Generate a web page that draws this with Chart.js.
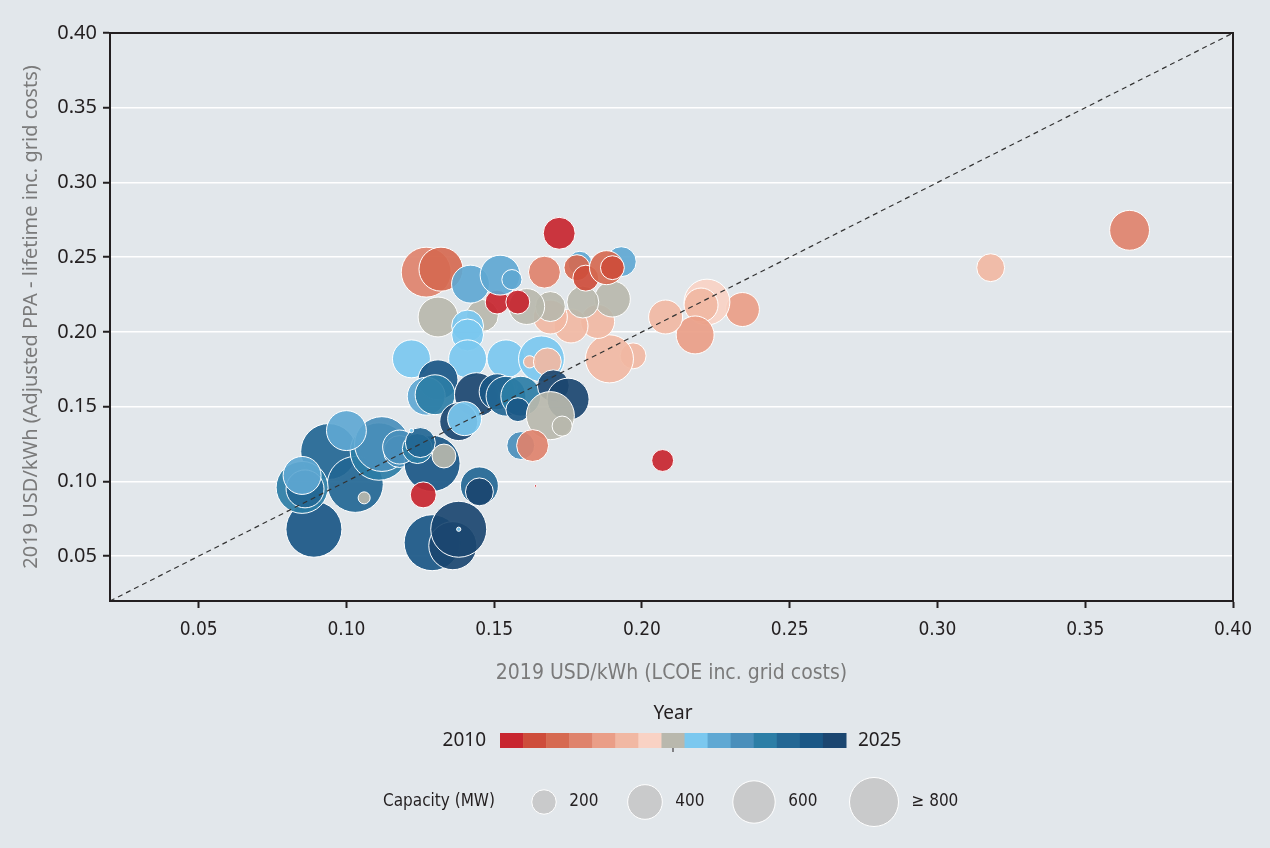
<!DOCTYPE html>
<html>
<head>
<meta charset="utf-8">
<script src="https://cdn.jsdelivr.net/npm/chart.js@4.4.0/dist/chart.umd.min.js"></script>
<style>
  html, body { margin: 0; padding: 0; background: #e2e7eb; }
  #wrap { width: 1270px; height: 848px; }
</style>
</head>
<body>
<div id="wrap"><canvas id="chart" width="1270" height="848"></canvas></div>
<script>
// LCOE inc. grid costs (x) and adjusted lifetime PPA (y), 2019 USD/kWh
const lcoe = [0.365, 0.318, 0.207, 0.234, 0.222, 0.220, 0.218, 0.208, 0.197, 0.189, 0.185, 0.176, 0.169,
  0.190, 0.180, 0.169, 0.161, 0.146, 0.131, 0.172, 0.167, 0.179, 0.178, 0.181, 0.193, 0.188, 0.190,
  0.151, 0.158, 0.127, 0.132, 0.142, 0.152, 0.156, 0.141, 0.141, 0.122, 0.141, 0.154, 0.166, 0.162,
  0.168, 0.154, 0.131, 0.127, 0.130, 0.144, 0.151, 0.154, 0.159, 0.170, 0.175, 0.158, 0.138, 0.140,
  0.169, 0.173, 0.159, 0.163, 0.164,
  0.089, 0.094, 0.103, 0.085, 0.086, 0.085, 0.111, 0.112, 0.100, 0.106, 0.118, 0.129, 0.118, 0.124,
  0.125, 0.122, 0.133, 0.126, 0.145, 0.145, 0.129, 0.136, 0.138, 0.138]
const ppa = [0.268, 0.243, 0.114, 0.215, 0.220, 0.218, 0.198, 0.210, 0.184, 0.182, 0.207, 0.204, 0.210,
  0.222, 0.220, 0.217, 0.217, 0.211, 0.210, 0.266, 0.240, 0.246, 0.243, 0.236, 0.247, 0.243, 0.243,
  0.220, 0.220, 0.240, 0.242, 0.232, 0.238, 0.235, 0.204, 0.198, 0.182, 0.182, 0.182, 0.182, 0.180,
  0.180, 0.163, 0.168, 0.157, 0.158, 0.158, 0.160, 0.157, 0.157, 0.164, 0.155, 0.148, 0.140, 0.142,
  0.144, 0.137, 0.124, 0.124, 0.097,
  0.068, 0.120, 0.098, 0.096, 0.095, 0.104, 0.120, 0.125, 0.134, 0.089, 0.120, 0.112, 0.123, 0.122,
  0.126, 0.134, 0.117, 0.091, 0.097, 0.093, 0.059, 0.057, 0.068, 0.068]
const capacity = [530, 260, 160, 385, 700, 385, 480, 385, 225, 770, 385, 385, 385,
  430, 340, 300, 430, 340, 530, 340, 340, 190, 225, 225, 300, 385, 190,
  190, 190, 830, 645, 480, 530, 135, 340, 340, 480, 480, 480, 700, 50,
  260, 160, 530, 480, 530, 645, 430, 530, 530, 340, 590, 190, 480, 385,
  770, 135, 260, 340, 2,
  1045, 1045, 1045, 900, 480, 480, 1100, 1000, 530, 48, 340, 1045, 385, 300,
  300, 6, 190, 225, 480, 260, 1045, 770, 1045, 6]
const year = [2013, 2015, 2010, 2014, 2016, 2015, 2014, 2015, 2015, 2015, 2015, 2015, 2015,
  2017, 2017, 2017, 2017, 2017, 2017, 2010, 2013, 2019, 2012, 2011, 2019, 2012, 2011,
  2010, 2010, 2013, 2012, 2019, 2019, 2019, 2018, 2018, 2018, 2018, 2018, 2018, 2015,
  2015, 2014, 2023, 2019, 2021, 2024, 2023, 2022, 2021, 2024, 2024, 2023, 2024, 2018,
  2017, 2017, 2020, 2013, 2010,
  2023, 2022, 2022, 2021, 2022, 2019, 2021, 2020, 2019, 2017, 2020, 2023, 2020, 2021,
  2022, 2018, 2017, 2010, 2022, 2024, 2023, 2024, 2024, 2018]

const yearColors = ['#c8262f', '#ce4d3b', '#d66a51', '#df836c', '#ea9e87', '#f1b8a3', '#f9d2c4', '#b9b8ad',
  '#7bc8ef', '#5fa8d3', '#4a8fbb', '#2c7ea6', '#236794', '#1a5785', '#1b4670']
const yearStart = 2010
const yearEnd = 2025
const sizeLegend = [200, 400, 600, 800]
const sizeLabels = ['200', '400', '600', '≥ 800']
const diagonal = [0.02, 0.40]

const ink = '#231f20'
const grey = '#7a7a7a'
const fontMain = "'Noto Sans', sans-serif"
const fontNarrow = "'Liberation Sans Narrow', 'DejaVu Sans Condensed', 'Noto Sans', sans-serif"

function rOf(mw) { return 0.866 * Math.sqrt(mw) }
function alpha(hex, a) {
  let n = parseInt(hex.slice(1), 16)
  return `rgba(${n >> 16},${(n >> 8) & 255},${n & 255},${a})`
}
function onlyFives(scale) {
  scale.ticks = scale.ticks.filter(t => Math.abs(t.value * 20 - Math.round(t.value * 20)) < 1e-6)
}

const frameAndLegend = {
  id: 'frameAndLegend',
  afterDraw(chart) {
    const { ctx, chartArea: a } = chart
    ctx.save()
    ctx.strokeStyle = ink
    ctx.lineWidth = 2
    ctx.strokeRect(a.left, a.top, a.right - a.left, a.bottom - a.top)

    // year colour bar
    let barL = 500, barW = 346, barT = 733, barH = 15
    let seg = barW / yearColors.length
    yearColors.forEach((c, i) => {
      ctx.fillStyle = c
      ctx.fillRect(barL + i * seg, barT, seg + 0.5, barH)
    })
    ctx.fillStyle = ink
    ctx.fillRect(barL + 7.5 * seg - 0.5, barT + barH, 1, 4)
    ctx.font = `19px ${fontMain}`
    ctx.textBaseline = 'middle'
    ctx.textAlign = 'center'
    ctx.fillText('Year', barL + barW / 2, 714)
    ctx.textAlign = 'right'
    ctx.fillText(String(yearStart), barL - 14, barT + barH / 2)
    ctx.textAlign = 'left'
    ctx.fillText(String(yearEnd), barL + barW + 12, barT + barH / 2)

    // capacity legend
    let cy = 802
    ctx.font = `17px ${fontNarrow}`
    ctx.fillText('Capacity (MW)', 383, cy)
    let centers = [544, 645, 754, 874]
    sizeLegend.forEach((mw, i) => {
      ctx.beginPath()
      ctx.arc(centers[i], cy, rOf(mw), 0, Math.PI * 2)
      ctx.fillStyle = '#c9cacb'
      ctx.fill()
      ctx.strokeStyle = '#ffffff'
      ctx.lineWidth = 1
      ctx.stroke()
      ctx.fillStyle = ink
      ctx.fillText(sizeLabels[i], centers[i] + rOf(mw) + 13, cy)
    })
    ctx.restore()
  }
}

new Chart(document.getElementById('chart'), {
  data: {
    datasets: [
      {
        type: 'line',
        data: diagonal.map(v => ({ x: v, y: v })),
        borderColor: '#333333',
        borderWidth: 1.2,
        borderDash: [5, 4],
        pointRadius: 0,
        order: 0
      },
      {
        type: 'bubble',
        data: lcoe.map((x, i) => ({ x: x, y: ppa[i], r: rOf(capacity[i]) })),
        backgroundColor: c => alpha(yearColors[year[c.dataIndex] - yearStart], 0.92),
        borderColor: '#ffffff',
        borderWidth: 1,
        order: 1
      }
    ]
  },
  options: {
    responsive: false,
    animation: false,
    layout: { padding: { top: 33, right: 37, bottom: 157, left: 0 } },
    plugins: { legend: { display: false }, tooltip: { enabled: false } },
    scales: {
      x: {
        type: 'linear',
        min: 0.02,
        max: 0.40,
        afterBuildTicks: onlyFives,
        afterFit: s => { s.height = 90 },
        ticks: { stepSize: 0.05, callback: v => v.toFixed(2), color: ink, font: { family: fontNarrow, size: 19 }, padding: 11 },
        grid: { drawOnChartArea: false, tickLength: 7, tickColor: ink, tickWidth: 2 },
        border: { color: ink, width: 2 },
        title: { display: true, text: '2019 USD/kWh (LCOE inc. grid costs)', color: grey, font: { family: fontNarrow, size: 21 }, padding: { top: 0, bottom: 5 } }
      },
      y: {
        type: 'linear',
        min: 0.02,
        max: 0.40,
        afterBuildTicks: onlyFives,
        afterFit: s => { s.width = 110 },
        ticks: { stepSize: 0.05, callback: v => v.toFixed(2), color: ink, font: { family: fontMain, size: 20 }, padding: 6 },
        grid: { color: '#ffffff', lineWidth: 1.5, tickLength: 7, tickColor: ink, tickWidth: 2 },
        border: { color: ink, width: 2 },
        title: { display: true, text: '2019 USD/kWh (Adjusted PPA - lifetime inc. grid costs)', color: grey, font: { family: fontMain, size: 20 }, padding: { top: 19, bottom: 0 } }
      }
    }
  },
  plugins: [frameAndLegend]
})
</script>
</body>
</html>
